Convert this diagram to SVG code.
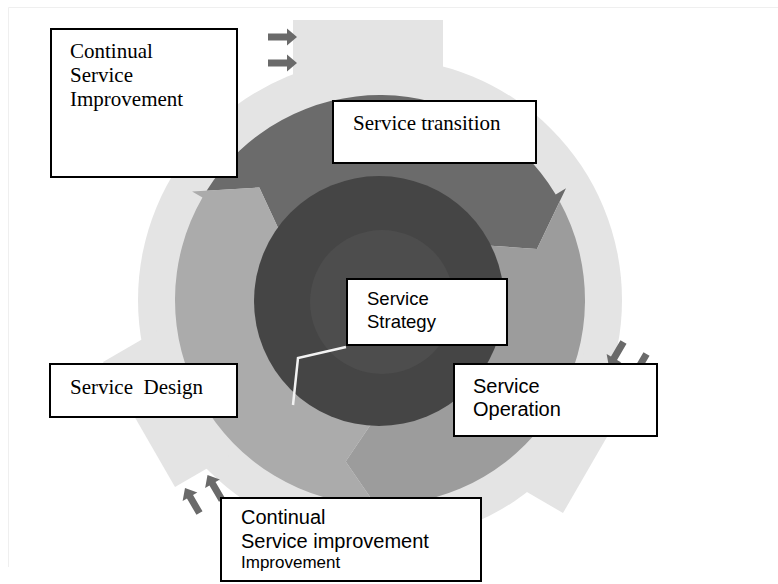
<svg xmlns="http://www.w3.org/2000/svg" xmlns:xlink="http://www.w3.org/1999/xlink" width="778" height="584" viewBox="0 0 778 584">
  <style>
    .box { fill: #ffffff; stroke: #000000; stroke-width: 2; }
    .serif { font-family: "Liberation Serif", "Times New Roman", serif; font-size: 21px; fill: #000000; }
    .sans { font-family: "Liberation Sans", Arial, sans-serif; font-size: 20px; fill: #000000; }
    .small { font-size: 17px; }
    .rim { fill: #e4e4e4; }
    .inlet { fill: #6a6a6a; }
  </style>
  <defs>
    <!-- small block arrow, tip at the origin, pointing along +x -->
    <path id="inArrow" d="M-29,-3.5 H-10 V-8.5 L0,0 L-10,8.5 V3.5 H-29 Z"/>
  </defs>

  <rect width="778" height="584" fill="#ffffff"/>
  <path d="M8.5,567 V7.5 H778" fill="none" stroke="#efefef" stroke-width="1"/>

  <!-- outer rim with three inlet tabs -->
  <g id="rim" class="rim">
    <circle cx="380" cy="300" r="242"/>
    <polygon points="293,20 443,20 443,120 293,120"/>
    <polygon points="103,362 175,487 244,447 172,322"/>
    <polygon points="563,513 637,385 568,345 494,473"/>
  </g>

  <!-- inlet arrows -->
  <g id="inlets" class="inlet">
    <use xlink:href="#inArrow" href="#inArrow" transform="translate(297,37)"/>
    <use xlink:href="#inArrow" href="#inArrow" transform="translate(297,63)"/>
    <use xlink:href="#inArrow" href="#inArrow" transform="translate(185,488) rotate(240)"/>
    <use xlink:href="#inArrow" href="#inArrow" transform="translate(207.5,475) rotate(240)"/>
    <use xlink:href="#inArrow" href="#inArrow" transform="translate(609,367) rotate(120)"/>
    <use xlink:href="#inArrow" href="#inArrow" transform="translate(632,379) rotate(120)"/>
  </g>

  <!-- lifecycle ring: three chevron arcs -->
  <g id="cycle">
    <path fill="#6b6b6b" d="M206.6,190.65 A205,205 0 0 1 555.72,194.42 L566.01,188.24 L536.92,249.01 L472.57,244.38 A108,108 0 0 0 286.47,246 L259.33,187.47 Z"/>
    <path fill="#9c9c9c" d="M559.72,201.38 A205,205 0 0 1 383.58,504.97 L383.79,516.97 L345.69,461.39 L381.88,407.98 A108,108 0 0 0 472.57,244.38 L536.92,249.01 Z"/>
    <path fill="#ababab" d="M375.55,504.95 A205,205 0 0 1 202.46,197.5 L192.07,191.5 L259.33,187.47 L286.47,246 A108,108 0 0 0 381.88,407.98 L345.69,461.39 Z"/>
  </g>

  <!-- core -->
  <g id="core">
    <circle cx="379" cy="301" r="125" fill="#454545"/>
    <circle cx="382" cy="302" r="72" fill="#4d4d4d"/>
  </g>

  <g id="connectors">
    <polyline points="346,347 298,358 293,405" fill="none" stroke="#f2f2f2" stroke-width="2.5"/>
  </g>

  <g id="continual-service-improvement">
    <rect class="box" x="51" y="29" width="186" height="148"/>
    <text class="serif" x="70" y="58">Continual</text>
    <text class="serif" x="70" y="82">Service</text>
    <text class="serif" x="70" y="106">Improvement</text>
  </g>

  <g id="service-transition">
    <rect class="box" x="333" y="101" width="203" height="62"/>
    <text class="serif" x="353" y="130">Service transition</text>
  </g>

  <g id="service-strategy">
    <rect class="box" x="347" y="279" width="160" height="66"/>
    <text class="sans" x="367" y="305" style="font-size:18.5px">Service</text>
    <text class="sans" x="367" y="328" style="font-size:18.5px">Strategy</text>
  </g>

  <g id="service-operation">
    <rect class="box" x="454" y="364" width="203" height="72"/>
    <text class="sans" x="473" y="393">Service</text>
    <text class="sans" x="473" y="416">Operation</text>
  </g>

  <g id="service-design">
    <rect class="box" x="50" y="364" width="187" height="53"/>
    <text class="serif" x="70" y="394" xml:space="preserve">Service  Design</text>
  </g>

  <g id="continual-service-improvement-2">
    <rect class="box" x="221" y="498" width="260" height="83"/>
    <text class="sans" x="241" y="524">Continual</text>
    <text class="sans" x="241" y="548">Service improvement</text>
    <text class="sans small" x="241" y="568">Improvement</text>
  </g>
</svg>
